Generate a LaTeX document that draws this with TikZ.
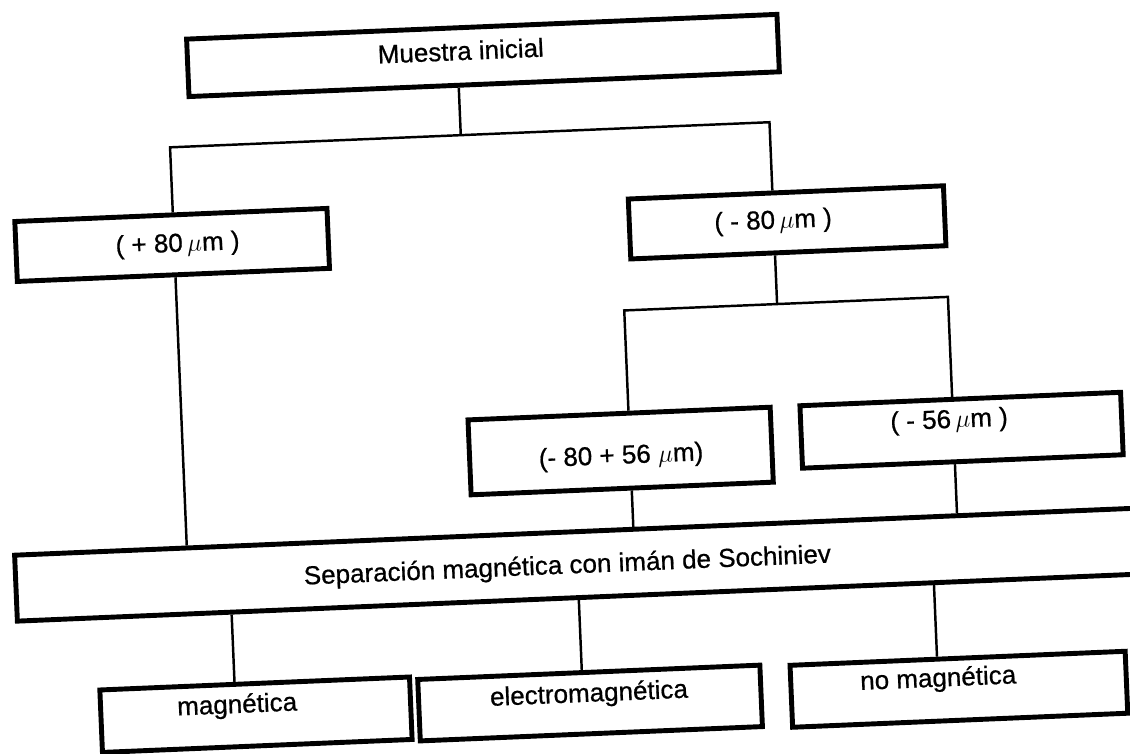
\documentclass[tikz,border=0pt]{standalone}
\usepackage{fontspec}
\setmainfont{Liberation Sans}[FakeBold=0.7]
\usetikzlibrary{calc}
\begin{document}
\begin{tikzpicture}[x=0.02cm,y=-0.02cm,
  box/.style={draw, line width=2.8pt, inner sep=0pt},
  conn/.style={line width=1.4pt},
  txt/.style={font=\fontsize{14.8}{17}\selectfont, inner sep=0pt, anchor=base}]
\useasboundingbox (0,0) rectangle (1130,754);
\fill[white] (0,0) rectangle (1130,754);
\begin{scope}[rotate around={2.4:(565,377)}, transform shape]
% boxes
\node[box, minimum width=11.82cm, minimum height=1.15cm] (m) at (496.5,52.3) {};
\node[box, minimum width=6.25cm, minimum height=1.2cm] (p80) at (178,228.6) {};
\node[box, minimum width=6.31cm, minimum height=1.2cm] (m80) at (793.4,231.8) {};
\node[box, minimum width=6.05cm, minimum height=1.5cm] (a56) at (617.5,453.3) {};
\node[box, minimum width=6.42cm, minimum height=1.25cm] (m56) at (959,446.8) {};
\node[box, minimum width=23.45cm, minimum height=1.32cm] (sep) at (593.75,565) {};
\node[box, minimum width=6.2cm, minimum height=1.25cm] (mag) at (242.1,701.5) {};
\node[box, minimum width=6.85cm, minimum height=1.23cm] (ele) at (576.4,703.8) {};
\node[box, minimum width=6.71cm, minimum height=1.24cm] (nom) at (945.5,705.5) {};
% texts
\node[txt] (tm) at (474.5,56) {Muestra inicial};
\node[txt] (tp80) at (183.5,235.6) {( + 80\,$\mu$m )};
\node[txt] (tm80) at (779.5,237.5) {( - 80\,$\mu$m )};
\node[txt] (ta56) at (617.7,466) {(- 80 + 56 $\mu$m)};
\node[txt] (tm56) at (947,444) {( - 56\,$\mu$m )};
\node[txt] (tsep) at (559.5,573.5) {Separación magnética con imán de Sochiniev};
\node[txt] (tmag) at (223.7,699) {magnética};
\node[txt] (tele) at (575.7,702.5) {electromagnética};
\node[txt] (tnom) at (925.3,702) {no magnética};
% junction coordinates
\coordinate (b1) at (471,131);
\coordinate (b1l) at (180,131);
\coordinate (b1r) at (780,131);
\coordinate (b2m) at (780,313);
\coordinate (b2l) at (627,313);
\coordinate (b2r) at (951,313);
\coordinate (c1) at (222,640);
\coordinate (c2) at (569.5,640);
\coordinate (c3) at (925,640);
% connectors
\draw[conn] ($(m.south west)!(b1)!(m.south east)$) -- (b1);
\draw[conn] ($(p80.north west)!(b1l)!(p80.north east)$) -- (b1l) -- (b1r)
  -- ($(m80.north west)!(b1r)!(m80.north east)$);
\draw[conn] ($(m80.south west)!(b2m)!(m80.south east)$) -- (b2m);
\draw[conn] ($(a56.north west)!(b2l)!(a56.north east)$) -- (b2l) -- (b2r)
  -- ($(m56.north west)!(b2r)!(m56.north east)$);
\draw[conn] ($(p80.south west)!(b1l)!(p80.south east)$) -- ($(sep.north west)!(b1l)!(sep.north east)$);
\draw[conn] ($(a56.south west)!(b2l)!(a56.south east)$) -- ($(sep.north west)!(b2l)!(sep.north east)$);
\draw[conn] ($(m56.south west)!(b2r)!(m56.south east)$) -- ($(sep.north west)!(b2r)!(sep.north east)$);
\draw[conn] ($(sep.south west)!(c1)!(sep.south east)$) -- ($(mag.north west)!(c1)!(mag.north east)$);
\draw[conn] ($(sep.south west)!(c2)!(sep.south east)$) -- ($(ele.north west)!(c2)!(ele.north east)$);
\draw[conn] ($(sep.south west)!(c3)!(sep.south east)$) -- ($(nom.north west)!(c3)!(nom.north east)$);
\end{scope}
\end{tikzpicture}
\end{document}
